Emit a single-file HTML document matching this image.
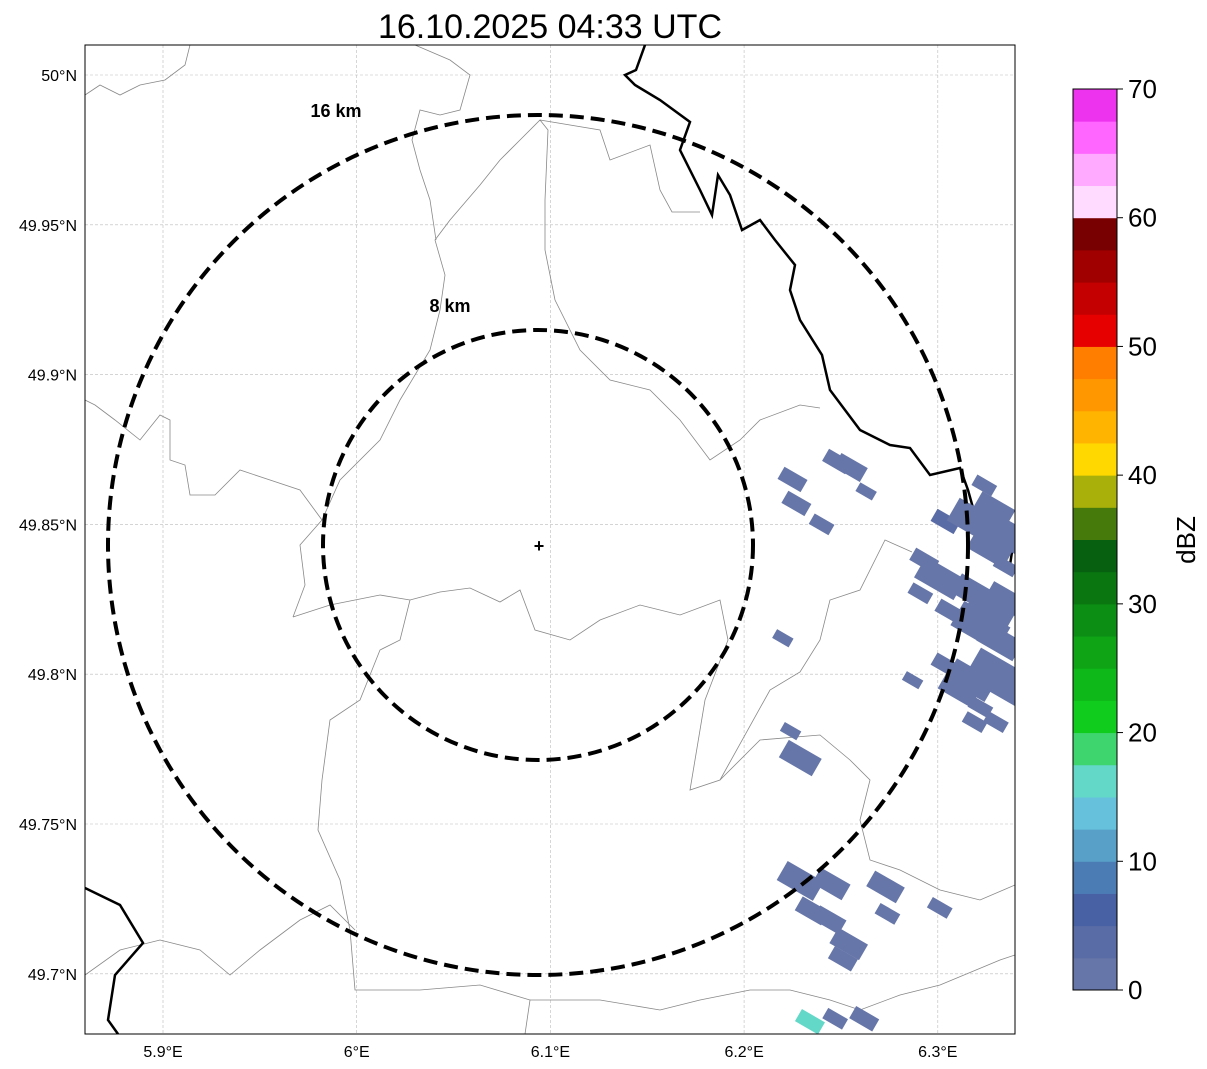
<!DOCTYPE html>
<html><head><meta charset="utf-8"><style>
body{margin:0;background:#fff;font-family:"Liberation Sans",sans-serif}
svg{display:block}
</style></head><body>
<svg id="chart" width="1207" height="1069" xmlns="http://www.w3.org/2000/svg">
<defs><clipPath id="mapclip"><rect x="85" y="45" width="930" height="989"/></clipPath></defs>
<text x="550" y="38" text-anchor="middle" font-size="34">16.10.2025 04:33 UTC</text>
<rect x="85" y="45" width="930" height="989" fill="#fff"/>
<g id="grid"></g>
<g clip-path="url(#mapclip)">
<g fill="none" stroke="#888" stroke-width="0.8">
<polyline points="293,617 330,605 380,595 410,600 440,592 470,588 500,602 520,590 535,630 570,640 600,620 640,605 680,615 720,600 728,640 705,700 690,790 720,780 770,690 800,672 820,640 830,600 860,590 885,540 912,552"/>
<polyline points="293,617 305,585 300,545 322,520 300,490 270,480 240,470 215,495 190,495 185,465 170,460 170,420 160,415 140,440 115,420 95,405 85,400"/>
<polyline points="322,520 340,480 380,440 400,400 430,350 440,310 445,275 435,240 450,220 480,185 500,160 520,140 540,120 548,130 545,200 545,250 555,300 580,350 610,380 650,390 680,420 710,460 740,440 760,420 800,405 820,408"/>
<polyline points="85,95 100,85 120,95 140,85 165,80 185,65 190,45"/>
<polyline points="415,45 450,60 470,75 460,110 440,115 420,110 412,140 420,170 430,200 436,240"/>
<polyline points="540,120 600,130 610,160 650,145 660,190 672,212 700,212"/>
<polyline points="410,600 400,640 380,650 360,700 330,720 322,780 318,830 340,880 350,930 355,990 420,990 480,985 530,1000 525,1034"/>
<polyline points="85,975 120,950 160,940 200,950 230,975 260,950 300,920 330,905 355,930"/>
<polyline points="530,1000 600,1000 660,1010 700,1000 750,990 790,990 830,1000 860,1010 900,995 940,985 1000,960 1015,955"/>
<polyline points="720,780 760,740 820,735 850,760 870,780 860,820 870,860 900,870 940,890 980,900 1015,885"/>
</g>
<polyline fill="none" stroke="#000" stroke-width="2.5" points="645,45 636,70 625,75 635,85 660,100 690,122 680,150 700,190 712,215 718,175 730,195 742,230 760,220 775,240 795,265 790,290 800,320 822,355 830,390 860,430 890,445 910,448 930,475 960,468 968,490 975,515 1000,522 1015,532 1010,565"/>
<polyline fill="none" stroke="#000" stroke-width="2.5" points="85,888 120,905 143,943 115,975 108,1020 118,1034"/>
<g id="cells"></g>
</g>
<g fill="none" stroke="#000" stroke-width="4" stroke-dasharray="14,7">
<circle cx="538" cy="545" r="430"/>
<circle cx="538" cy="545" r="215"/>
</g>
<text x="336" y="117" text-anchor="middle" font-size="18" font-weight="bold">16 km</text>
<text x="450" y="312" text-anchor="middle" font-size="18" font-weight="bold">8 km</text>
<text x="539" y="552" text-anchor="middle" font-size="18" font-weight="bold">+</text>
<rect x="85" y="45" width="930" height="989" fill="none" stroke="#000" stroke-width="1"/>
<g id="ticks" font-size="16"></g>
<g id="cbar"></g>
<text x="1195" y="540" font-size="26" text-anchor="middle" transform="rotate(-90 1195 540)">dBZ</text>
</svg>
<script>
const lonTicks=[5.9,6.0,6.1,6.2,6.3];
const lonLabels=["5.9°E","6°E","6.1°E","6.2°E","6.3°E"];
const latTicks=[50,49.95,49.9,49.85,49.8,49.75,49.7];
const latLabels=["50°N","49.95°N","49.9°N","49.85°N","49.8°N","49.75°N","49.7°N"];
const cellLon=[6.225,6.227,6.240,6.248,6.255,6.263,6.324,6.329,6.304,6.319,6.332,6.327,6.335,6.293,6.301,6.291,6.319,6.327,6.335,6.306,6.322,6.332,6.304,6.317,6.330,6.335,6.311,6.322,6.319,6.330,6.220,6.287,6.224,6.229,6.229,6.245,6.235,6.244,6.254,6.251,6.273,6.274,6.301,6.234,6.247,6.262];
const cellLat=[49.865,49.857,49.850,49.871,49.869,49.861,49.863,49.855,49.851,49.851,49.848,49.842,49.836,49.838,49.832,49.827,49.827,49.821,49.825,49.821,49.816,49.811,49.803,49.798,49.801,49.795,49.795,49.789,49.784,49.784,49.812,49.798,49.781,49.772,49.731,49.730,49.721,49.718,49.710,49.705,49.729,49.720,49.722,49.684,49.685,49.685];
const cellDbz=[1,1,1,1,1,1,1,1,4,1,1,1,1,1,1,1,1,1,1,1,1,1,1,1,1,1,1,1,1,1,1,1,1,1,1,1,1,1,1,1,1,1,1,15,1,1];
const cellSize=[14,14,12,14,16,10,12,20,14,26,26,22,12,14,24,12,22,24,20,14,28,22,14,24,26,20,20,12,12,12,10,10,10,20,22,18,16,16,18,14,18,12,12,14,12,14];
const bandColors=["#6676a8","#5a6ca6","#4860a4","#4c7cb4","#58a0c8","#66c2dc","#64d8c8","#3ed46e","#10cc1c","#0eb818","#0ea416","#0c8e14","#0a7610","#066010","#467a0a","#aab00a","#ffd800","#ffb400","#ff9800","#ff7e00","#e60000","#c40000","#a00000","#780000","#ffdcff","#ffaaff","#ff66ff","#ee33ee"];
const cbTicks=[0,10,20,30,40,50,60,70];
const NS="http://www.w3.org/2000/svg";
function X(lon){return 163+(lon-5.9)*1937;}
function Y(lat){return 75+(50-lat)*2996;}
function cbY(v){return 990-v*(901/70);}
function mk(t,a,p){const e=document.createElementNS(NS,t);for(const k in a)e.setAttribute(k,a[k]);p.appendChild(e);return e;}
const grid=document.getElementById('grid'),ticks=document.getElementById('ticks');
lonTicks.forEach((v,i)=>{const x=X(v);
 const l=mk('line',{x1:x,x2:x,y1:45,y2:1034,stroke:'#bbb','stroke-width':0.6,'stroke-dasharray':'3,2'},grid);
 
 
 const t=mk('text',{x:x,y:1057,'text-anchor':'middle'},ticks);t.textContent=lonLabels[i];
 
 });
latTicks.forEach((v,i)=>{const y=Y(v);
 const l=mk('line',{x1:85,x2:1015,y1:y,y2:y,stroke:'#bbb','stroke-width':0.6,'stroke-dasharray':'3,2'},grid);
 
 
 const t=mk('text',{x:77,y:y+6,'text-anchor':'end'},ticks);t.textContent=latLabels[i];
 
 });
const cells=document.getElementById('cells');
cellLon.forEach((lo,i)=>{const x=X(lo),y=Y(cellLat[i]),h=cellSize[i],w=h*1.9;
 const c=bandColors[Math.min(27,Math.floor(cellDbz[i]/2.5))];
 const r=mk('rect',{x:x-w/2,y:y-h/2,width:w,height:h,fill:c,transform:`rotate(30 ${x} ${y})`},cells);
 
 });
const cb=document.getElementById('cbar');
bandColors.forEach((c,i)=>{const y1=cbY((i+1)*2.5),y0=cbY(i*2.5);
 const r=mk('rect',{x:1073,y:y1,width:44,height:y0-y1+0.5,fill:c},cb);
 
 });
mk('rect',{x:1073,y:89,width:44,height:901,fill:'none',stroke:'#000','stroke-width':1},cb);
cbTicks.forEach(v=>{const y=cbY(v);
 mk('line',{x1:1117,x2:1123,y1:y,y2:y,stroke:'#000'},cb);
 const t=mk('text',{x:1128,y:y+9,'font-size':26},cb);t.textContent=v;
 
 });
</script>
</body></html>
